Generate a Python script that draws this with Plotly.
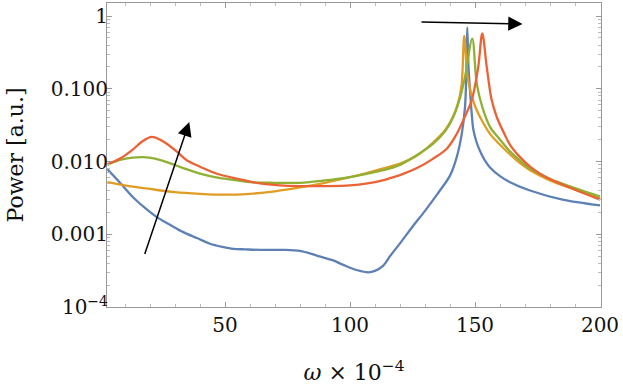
import numpy as np
import plotly.graph_objects as go

# ---- data ----
blue_x = [3, 8, 13.3, 18, 22.7, 28, 33.3, 39, 44, 49, 53.3, 58, 64, 73, 80, 86.7, 93, 97.3, 103, 107.3, 110, 113.3,
          116, 120, 125, 130, 135, 140, 142.7, 144.7, 146, 146.5, 146.9, 147.4, 148, 148.7, 149.3, 150.5, 152, 154,
          156, 160, 164, 172, 185, 200]
blue_y = [0.0078, 0.0051, 0.0032, 0.0023, 0.00172, 0.00135, 0.00107, 0.00088, 0.00074, 0.00067, 0.00063, 0.00062,
          0.00061, 0.00061, 0.00059, 0.00051, 0.00044, 0.00038, 0.00032, 0.00030, 0.000314, 0.00037,
          0.00050, 0.00075, 0.00127, 0.0021, 0.0036, 0.0064, 0.0115, 0.024, 0.056, 0.15, 0.70, 0.2,
          0.096, 0.045, 0.028, 0.019, 0.0140, 0.0103, 0.0083, 0.0063, 0.0052, 0.0040, 0.0030, 0.0025]

orange_x = [3, 10, 20, 30, 40, 50, 60, 70, 80, 90, 100, 107, 113, 120, 127, 133, 138, 141, 143, 144.6, 145.7,
            147, 148.5, 150, 152, 156, 160, 164, 168, 172, 180, 190, 200]
orange_y = [0.0052, 0.0047, 0.0042, 0.0038, 0.0036, 0.0035, 0.0036, 0.0039, 0.0044, 0.0051, 0.0061, 0.0070,
            0.0080, 0.0094, 0.0122, 0.018, 0.027, 0.040, 0.060, 0.11, 0.535, 0.15, 0.085, 0.058, 0.041, 0.024,
            0.017, 0.0125, 0.0095, 0.0076, 0.0055, 0.0041, 0.0031]

green_x = [3, 8, 13, 17.3, 22, 26.7, 33, 40, 47, 53.3, 60, 70, 80, 90, 100, 107, 113.3, 120, 126.7, 133.3, 138,
           141.3, 144, 146, 148.9, 150.7, 153, 156, 160, 164, 168, 172, 180, 190, 200]
green_y = [0.0090, 0.0105, 0.0113, 0.0115, 0.0110, 0.0098, 0.0082, 0.0068, 0.0060, 0.0056, 0.0052, 0.0051,
           0.0051, 0.0055, 0.0061, 0.0068, 0.0076, 0.0090, 0.0122, 0.0176, 0.026, 0.041, 0.075, 0.146, 0.49,
           0.118, 0.055, 0.030, 0.020, 0.0138, 0.0103, 0.0080, 0.0058, 0.0043, 0.0033]

red_x = [3, 8, 13, 17, 20.7, 24, 26.7, 31, 34.7, 40, 46.7, 55, 64, 72, 80, 90, 100, 107, 113, 116, 120, 127,
         133, 138.7, 142.7, 146, 148.7, 151.3, 152.9, 154.7, 156.5, 158.7, 162, 164, 168, 172, 176, 180, 190, 200]
red_y = [0.0092, 0.0110, 0.0145, 0.019, 0.0218, 0.020, 0.0176, 0.0135, 0.0104, 0.0085, 0.0068, 0.0058, 0.0050,
         0.0047, 0.0046, 0.0046, 0.0047, 0.0050, 0.0055, 0.0059, 0.0065, 0.0082, 0.0108, 0.015, 0.024, 0.042,
         0.07, 0.2, 0.58, 0.2, 0.075, 0.041, 0.023, 0.0170, 0.0115, 0.0085, 0.0068, 0.0057, 0.0041, 0.0030]

series_names = ["blue", "orange", "green", "red"]
series_colors = ["#5E81B5", "#E19C24", "#8FB032", "#EB6235"]

x_ticks = [50, 100, 150, 200]
x_ticklabels = ["50", "100", "150", "200"]
y_ticks = [1e-4, 1e-3, 1e-2, 1e-1, 1]
y_ticklabels = ["10<sup>\u22124</sup>", "0.001", "0.010", "0.100", "1"]

# arrows: (tail x, tail y) -> (tip x, tip y)
arrow1_tail = (17.7, 0.00051)
arrow1_tip = (35.7, 0.035)
arrow2_tail = (128, 0.83)
arrow2_tip = (169, 0.78)

# ---- figure ----
fig = go.Figure()
for xs, ys, name, col in zip([blue_x, orange_x, green_x, red_x],
                             [blue_y, orange_y, green_y, red_y],
                             series_names, series_colors):
    fig.add_trace(go.Scatter(x=xs, y=ys, mode="lines", name=name,
                             line=dict(color=col, width=2.3, shape="spline", smoothing=0.9)))

for tail, tip in [(arrow1_tail, arrow1_tip), (arrow2_tail, arrow2_tip)]:
    fig.add_annotation(x=tip[0], y=np.log10(tip[1]), ax=tail[0], ay=np.log10(tail[1]),
                       xref="x", yref="y", axref="x", ayref="y", text="",
                       showarrow=True, arrowhead=2, arrowsize=1.9, arrowwidth=1.5,
                       arrowcolor="black", standoff=0, startstandoff=0)

minor_y = [m * 10.0 ** e for e in range(-4, 0) for m in range(2, 10)] + [m for m in range(2, 10)]
minor_x = [v for v in range(10, 200, 10) if v % 50 != 0]

frame_col = "#999999"
fig.update_xaxes(range=[2.8, 200.4], tickvals=x_ticks, ticktext=x_ticklabels,
                 ticks="inside", ticklen=5, tickwidth=1, tickcolor=frame_col,
                 showline=True, linecolor=frame_col, linewidth=1, mirror="ticks",
                 showgrid=False, zeroline=False,
                 minor=dict(tickvals=minor_x, ticks="inside", ticklen=3, tickcolor="#bbbbbb", showgrid=False),
                 tickfont=dict(family="DejaVu Serif", size=20, color="#111111"),
                 title=dict(text="<i>\u03c9</i> \u00d7 10<sup>\u22124</sup>",
                            font=dict(family="DejaVu Serif", size=22, color="#111111"), standoff=28))
fig.update_yaxes(type="log", range=[-4, 0.18], tickvals=y_ticks, ticktext=y_ticklabels,
                 ticks="inside", ticklen=5, tickwidth=1, tickcolor=frame_col,
                 showline=True, linecolor=frame_col, linewidth=1, mirror="ticks",
                 showgrid=False, zeroline=False, ticklabelstandoff=-6,
                 minor=dict(tickvals=minor_y, ticks="inside", ticklen=3, tickcolor="#bbbbbb", showgrid=False),
                 tickfont=dict(family="DejaVu Serif", size=20, color="#111111"),
                 title=dict(text="Power [a.u.]",
                            font=dict(family="DejaVu Serif", size=22, color="#111111"), standoff=21))

fig.update_layout(width=623, height=389, margin=dict(l=107, r=22, t=3, b=82, autoexpand=False),
                  plot_bgcolor="white", paper_bgcolor="white", showlegend=False)

fig.write_html("out.html", config={"displayModeBar": False},
               post_script="document.body.style.margin='0';")
